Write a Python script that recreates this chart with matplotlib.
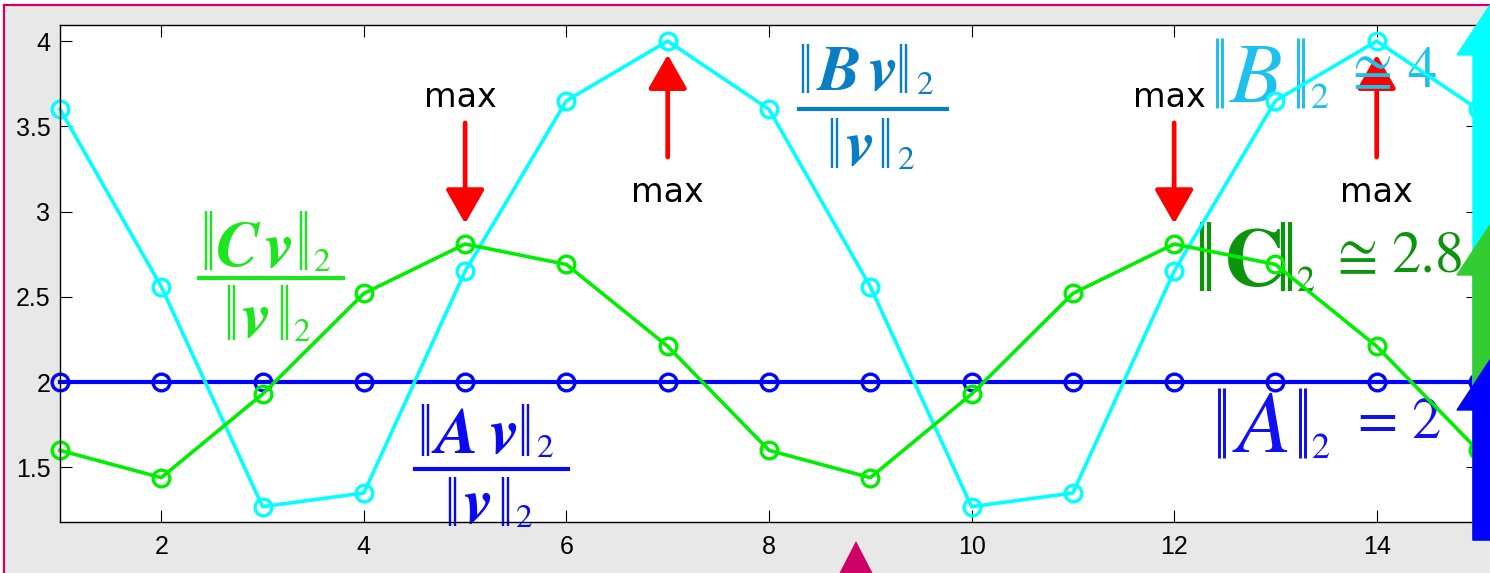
import numpy as np
import matplotlib
matplotlib.use("Agg")
import matplotlib.pyplot as plt
from matplotlib import transforms
from matplotlib.patches import Rectangle, FancyArrow, Polygon
from matplotlib.lines import Line2D

# ---- data ---------------------------------------------------------------
x = np.arange(1, 16)
a_ratio = [2.0, 2.0, 2.0, 2.0, 2.0, 2.0, 2.0, 2.0, 2.0, 2.0, 2.0, 2.0, 2.0, 2.0, 2.0]
b_ratio = [3.60, 2.56, 1.27, 1.35, 2.65, 3.65, 4.00, 3.60, 2.56, 1.27, 1.35, 2.65, 3.65, 4.00, 3.60]
c_ratio = [1.60, 1.44, 1.93, 2.52, 2.81, 2.69, 2.21, 1.60, 1.44, 1.93, 2.52, 2.81, 2.69, 2.21, 1.60]
x_ticks = [2, 4, 6, 8, 10, 12, 14]
y_ticks = [1.5, 2, 2.5, 3, 3.5, 4]
c_peaks = [5, 12]   # where ||Cv||/||v|| is largest
b_peaks = [7, 14]   # where ||Bv||/||v|| is largest

W, H = 1490, 573
SERIF = "STIXGeneral"

fig = plt.figure(figsize=(W / 100, H / 100), dpi=100, facecolor="white")
# pixel coordinates measured from the top-left corner
px = transforms.Affine2D().scale(1 / W, -1 / H).translate(0, 1) + fig.transFigure

# slide frame
fig.patches.append(Rectangle((4, 5), W, H, transform=px, facecolor="#e8e8e8",
                             edgecolor="none", zorder=-10))
fig.lines.append(Line2D([4, 4], [5, H], transform=px, color="#cc0066", lw=1.6, zorder=-9))
fig.lines.append(Line2D([4, W], [5, 5], transform=px, color="#cc0066", lw=1.6, zorder=-9))

ax = fig.add_axes([60 / W, 1 - 522 / H, (1478 - 60) / W, (522 - 25) / H])
ax.set_facecolor("white")

ax.plot(x, a_ratio, "-o", color="#0000ff", lw=3.0, ms=12, mew=2.4, mfc="none", clip_on=False, zorder=2)
ax.plot(x, b_ratio, "-o", color="#00ffff", lw=2.6, ms=12, mew=2.4, mfc="none", clip_on=False, zorder=2.1)
ax.plot(x, c_ratio, "-o", color="#00ee00", lw=2.6, ms=12, mew=2.4, mfc="none", clip_on=False, zorder=2.2)

ax.set_xlim(1, 15)
ax.set_ylim(1.18, 4.094)
ax.set_xticks(x_ticks)
ax.set_yticks(y_ticks)
ax.set_yticklabels([f"{v:g}" for v in y_ticks])
ax.tick_params(direction="in", length=8.5, width=0.8, top=True, right=True,
               labelsize=18, pad=7)
ax.tick_params(axis="x", pad=9)
for lab in ax.get_xticklabels() + ax.get_yticklabels():
    lab.set_fontfamily("Liberation Sans")
for sp in ax.spines.values():
    sp.set_linewidth(1.0)

# ---- "max" markers -------------------------------------------------------
arrow_kw = dict(arrowstyle="-|>,head_length=1.05,head_width=0.6", color="red",
                lw=3.4, shrinkA=0, shrinkB=0, mutation_scale=20)
for xp in c_peaks:
    yp = c_ratio[xp - 1]
    ax.annotate("", xy=(xp, yp + 0.12), xytext=(xp, yp + 0.71),
                arrowprops=arrow_kw, zorder=1.5)
    ax.text(xp - 0.05, 3.613, "max", ha="center", va="baseline", fontsize=24,
            family="DejaVu Sans", zorder=3)
for xp in b_peaks:
    yp = b_ratio[xp - 1]
    ax.annotate("", xy=(xp, yp - 0.08), xytext=(xp, yp - 0.68),
                arrowprops=arrow_kw, zorder=1.5)
    ax.text(xp, 3.056, "max", ha="center", va="baseline", fontsize=24,
            family="DejaVu Sans", zorder=3)


def glyphs(items, color, z):
    """Place formula letters: (text, left, baseline, size, style, weight)."""
    for s, xl, base, size, style, weight in items:
        ax.text(xl, base, s, transform=px, family=SERIF, fontsize=size, style=style,
                weight=weight, color=color, ha="left", va="baseline", zorder=z)


def norm_bars(xl, top, bottom, color, stroke=2.4, gap=4.6, z=1.8):
    """Double vertical bar of a norm sign, left edge at xl."""
    for k in (0, 1):
        xc = xl + stroke / 2 + k * gap
        ax.add_line(Line2D([xc, xc], [top, bottom], transform=px, color=color,
                           lw=stroke * 0.72, solid_capstyle="butt", clip_on=False, zorder=z))


def bar(x0, x1, y, color):
    ax.add_line(Line2D([x0, x1], [y, y], transform=px, color=color, lw=3.0,
                       clip_on=False, zorder=1.8))


# ---- ratio labels ||Mv||_2 / ||v||_2 --------------------------------------
N, S = 47, 24
BI = ("italic", "bold")
RG = ("normal", "normal")
IT = ("italic", "normal")
BD = ("normal", "bold")


def ratio_label(col, num, den, bar_span, bar_y):
    letter, xl_bar1, x_letter, x_v, xl_bar2, x_sub, base, top = num
    norm_bars(xl_bar1, top, base + 3, col)
    norm_bars(xl_bar2, top, base + 3, col)
    glyphs([(letter, x_letter, base, N, *BI), ("v", x_v, base, N, *BI),
            ("2", x_sub, base + 4, S, *RG)], col, 1.8)
    xl_bar1, x_v, xl_bar2, x_sub, base, top = den
    norm_bars(xl_bar1, top, base + 3, col)
    norm_bars(xl_bar2, top, base + 3, col)
    glyphs([("v", x_v, base, N, *BI), ("2", x_sub, base + 4, S, *RG)], col, 1.8)
    bar(bar_span[0], bar_span[1], bar_y, col)


ratio_label("#1ee61e", ("C", 205, 216, 264, 300, 314, 267, 211),
            (228, 241, 281, 294, 337, 285), (199, 343), 278)
ratio_label("#0a0af0", ("A", 422, 435, 489, 522, 537, 453, 404),
            (449, 463, 502, 516, 523, 477), (415, 568), 469)
ratio_label("#0a7ec4", ("B", 802, 818, 868, 900, 917, 90, 44),
            (831, 845, 882, 898, 165, 118), (799, 947), 109)

# ---- norm labels ----------------------------------------------------------
V, S2 = 42, 26


def norm_label(col, xl_bar1, letter, style, size, x_letter, xl_bar2, x_sub, base, top,
               rel, x_rel, val, x_val, base_val, stroke, gap):
    norm_bars(xl_bar1, top, base + 6, col, stroke, gap, 1.6)
    norm_bars(xl_bar2, top, base + 6, col, stroke, gap, 1.6)
    glyphs([(letter, x_letter, base, size, *style), ("2", x_sub, base + 6, S2, *RG),
            (rel, x_rel, base_val, V, *RG), (val, x_val, base_val, V, *RG)], col, 1.6)


norm_label("#1ec0ec", 1215, "B", IT, 62, 1230, 1296, 1311, 102, 38,
           "\u2245", 1352, "4", 1407, 87, 3.0, 5.5)
norm_label("#0d940d", 1200, "C", BD, 60, 1224, 1281, 1297, 285, 222,
           "\u2245", 1337, "2.8", 1391, 272, 4.2, 7.0)
norm_label("#1010f0", 1217, "A", IT, 64, 1237, 1298, 1312, 452, 388,
           "=", 1357, "2", 1411, 438, 3.0, 5.5)

# ---- norm arrows on the right edge ---------------------------------------
inch = fig.dpi_scale_trans
def norm_arrow(tip_y, color, z):
    x0, y0 = 1490 / 100, (H - 540) / 100
    y1 = (H - tip_y) / 100
    fig.patches.append(FancyArrow(x0, y0, 0, y1 - y0, width=0.34, head_width=0.66,
                                  head_length=0.50, length_includes_head=True,
                                  transform=inch, color=color, zorder=z))

norm_arrow(5, "#00ffff", 5)
norm_arrow(225, "#33cc33", 6)
norm_arrow(360, "#0000ff", 7)

# slide navigation mark
fig.patches.append(Polygon([(856, 541), (838, 576), (874, 576)], closed=True,
                           transform=px, facecolor="#cc0066", edgecolor="none", zorder=5))

fig.savefig("out.png", dpi=100)
